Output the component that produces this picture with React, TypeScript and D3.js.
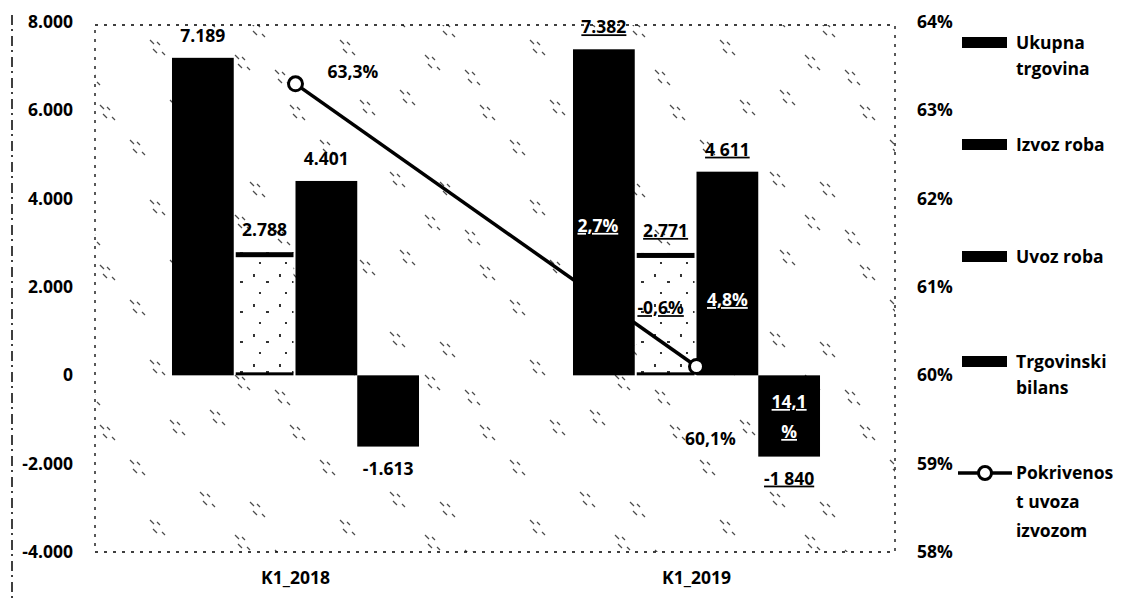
import React from "react";
import * as d3 from "d3";

const categories = ["K1_2018", "K1_2019"];
const seriesNames = ["Ukupna trgovina", "Izvoz roba", "Uvoz roba", "Trgovinski bilans"];
const ukupnaTrgovina = [7189, 7382];
const izvozRoba = [2788, 2771];
const uvozRoba = [4401, 4611];
const trgovinskiBilans = [-1613, -1840];
const pokrivenost = [63.3, 60.1];
const valueLabels2018 = ["7.189", "2.788", "4.401", "-1.613"];
const valueLabels2019 = ["7.382", "2.771", "4 611", "-1 840"];
const growthLabels2019 = ["2,7%", "-0,6%", "4,8%", "14,1\n%"];
const pokrivenostLabels = ["63,3%", "60,1%"];
const leftTicks = [8000, 6000, 4000, 2000, 0, -2000, -4000];
const rightTicks = [64, 63, 62, 61, 60, 59, 58];
const legendLines = [["Ukupna", "trgovina"], ["Izvoz roba"], ["Uvoz roba"], ["Trgovinski", "bilans"], ["Pokrivenos", "t uvoza", "izvozom"]];

const W = 1123, H = 600;
const FONT = "'Open Sans', 'Noto Sans', sans-serif";
const FS = 17.5;
const FW = 700;

export default function App() {
  const locale = d3.formatLocale({ decimal: ",", thousands: ".", grouping: [3], currency: ["", ""], minus: "-" });
  const fmt = locale.format(",");
  const y = d3.scaleLinear().domain([-4000, 8000]).range([552, 22]);
  const yR = d3.scaleLinear().domain([58, 64]).range([552, 22]);
  const x0 = d3.scaleBand().domain(categories).range([95, 897]).paddingInner(0.384).paddingOuter(0.192);
  const x1 = d3.scaleBand().domain(seriesNames).range([0, x0.bandwidth()]).padding(0);
  const seriesVals = [ukupnaTrgovina, izvozRoba, uvozRoba, trgovinskiBilans];
  const labelsByCat = [valueLabels2018, valueLabels2019];
  const growthFrac = [0.44, 0.5, 0.34, 0.5];

  const linePts = categories.map((c, i) => [x0(c)! + x0.bandwidth() / 2, yR(pokrivenost[i])] as [number, number]);
  const lineGen = d3.line();

  const noiseStrokes: [number, number][] = [[10, 12], [60, 22], [85, 70], [20, 90], [100, 105], [45, 55], [150, 40], [130, 140], [170, 100]];

  return (
    <svg width={W} height={H} style={{ display: "block", position: "absolute", left: 0, top: 0, background: "#fff" }} fontFamily={FONT}>
      <defs>
        <pattern id="noise" width="190" height="160" patternUnits="userSpaceOnUse">
          {noiseStrokes.map(([a, b], i) => (
            <g key={i} stroke="#000" strokeWidth={1.3}>
              <line x1={a} y1={b} x2={a + 4} y2={b + 4} />
              <line x1={a + 7} y1={b + 2} x2={a + 10} y2={b + 5} />
              <line x1={a + 3} y1={b + 9} x2={a + 7} y2={b + 13} />
              <line x1={a + 12} y1={b + 12} x2={a + 15} y2={b + 15} />
            </g>
          ))}
        </pattern>
        <pattern id="speck" width="26" height="30" patternUnits="userSpaceOnUse">
          <rect x="3" y="4" width="2" height="3" fill="#000" />
          <rect x="16" y="11" width="3" height="2" fill="#000" />
          <rect x="9" y="22" width="2" height="2" fill="#000" />
        </pattern>
      </defs>

      {/* outer left line */}
      <line x1={12} y1={15} x2={12} y2={600} stroke="#000" strokeWidth={1.5} strokeDasharray="10,4,2,5" />

      {/* plot area */}
      <rect x={95} y={25} width={800} height={527} fill="url(#noise)" opacity={0.7} />
      <rect x={95} y={25} width={800} height={527} fill="none" stroke="#000" strokeWidth={1.3} strokeDasharray="3,6" />

      {/* left axis */}
      {leftTicks.map((t) => (
        <text key={t} x={73} y={y(t) + 6} textAnchor="end" fontSize={FS} fontWeight={FW} fill="#000">{fmt(t)}</text>
      ))}
      {/* right axis */}
      {rightTicks.map((t) => (
        <text key={t} x={917} y={yR(t) + 6} textAnchor="start" fontSize={FS} fontWeight={FW} fill="#000">{t}%</text>
      ))}

      {/* bars */}
      {categories.map((c, ci) => (
        <g key={c} transform={`translate(${x0(c)},0)`}>
          {seriesNames.map((s, si) => {
            const v = seriesVals[si][ci];
            const top = y(Math.max(0, v));
            const h = Math.abs(y(v) - y(0));
            const bx = x1(s)!;
            const bw = x1.bandwidth();
            if (si === 1) {
              return (
                <g key={s}>
                  <rect x={bx + 2} y={top} width={bw - 4} height={h} fill="#fff" />
                  <rect x={bx + 2} y={top} width={bw - 4} height={h} fill="url(#speck)" opacity={0.8} />
                  <rect x={bx + 2} y={top} width={bw - 4} height={5} fill="#000" />
                  <rect x={bx + 2} y={y(0) - 3} width={bw - 4} height={3} fill="#000" />
                </g>
              );
            }
            return <rect key={s} x={bx} y={top} width={bw} height={h} fill="#000" />;
          })}
        </g>
      ))}

      {/* value labels */}
      {categories.map((c, ci) => (
        <g key={c}>
          {seriesNames.map((s, si) => {
            const v = seriesVals[si][ci];
            const cx = x0(c)! + x1(s)! + x1.bandwidth() / 2;
            const ly = v >= 0 ? y(v) - 16 : y(v) + 28;
            return (
              <text key={s} x={cx} y={ly} textAnchor="middle" fontSize={FS} fontWeight={FW} fill="#000"
                textDecoration={ci === 1 ? "underline" : undefined}>{labelsByCat[ci][si]}</text>
            );
          })}
        </g>
      ))}

      {/* growth labels 2019 */}
      {seriesNames.map((s, si) => {
        const v = seriesVals[si][1];
        const cx = x0(categories[1])! + x1(s)! + x1.bandwidth() / 2 + (si === 0 ? -6 : si === 1 ? -5 : 0);
        const lines = growthLabels2019[si].split("\n");
        const by = y(v * growthFrac[si]);
        const col = si === 1 ? "#000" : "#fff";
        return (
          <text key={s} x={cx} y={by} textAnchor="middle" fontSize={FS} fontWeight={FW} fill={col} textDecoration="underline">
            {lines.map((l, li) => (
              <tspan key={li} x={cx} dy={li === 0 ? (lines.length > 1 ? -8 : 0) : 30}>{l}</tspan>
            ))}
          </text>
        );
      })}

      {/* line */}
      <path d={lineGen(linePts) ?? ""} fill="none" stroke="#000" strokeWidth={3.5} />
      {linePts.map((p, i) => (
        <circle key={i} cx={p[0]} cy={p[1]} r={7} fill="#fff" stroke="#000" strokeWidth={3} />
      ))}
      <text x={linePts[0][0] + 32} y={linePts[0][1] - 6} fontSize={FS} fontWeight={FW} fill="#000">{pokrivenostLabels[0]}</text>
      <text x={linePts[1][0] + 14} y={linePts[1][1] + 78} textAnchor="middle" fontSize={FS} fontWeight={FW} fill="#000">{pokrivenostLabels[1]}</text>

      {/* category labels */}
      {categories.map((c) => (
        <text key={c} x={x0(c)! + x0.bandwidth() / 2} y={584} textAnchor="middle" fontSize={FS} fontWeight={FW} fill="#000">{c}</text>
      ))}

      {/* legend */}
      {legendLines.map((lines, i) => {
        const ys = [43, 145, 257, 362, 473];
        const ly = ys[i];
        const gap = i === 4 ? 29 : 26;
        return (
          <g key={i}>
            {i < 4 ? (
              <rect x={962} y={ly - 6} width={45} height={11} fill="#000" />
            ) : (
              <g>
                <line x1={958} y1={ly} x2={1012} y2={ly} stroke="#000" strokeWidth={3.5} />
                <circle cx={985} cy={ly} r={6.5} fill="#fff" stroke="#000" strokeWidth={3} />
              </g>
            )}
            {lines.map((l, li) => (
              <text key={li} x={1016} y={ly + 6 + li * gap} fontSize={FS} fontWeight={FW} fill="#000">{l}</text>
            ))}
          </g>
        );
      })}
    </svg>
  );
}
